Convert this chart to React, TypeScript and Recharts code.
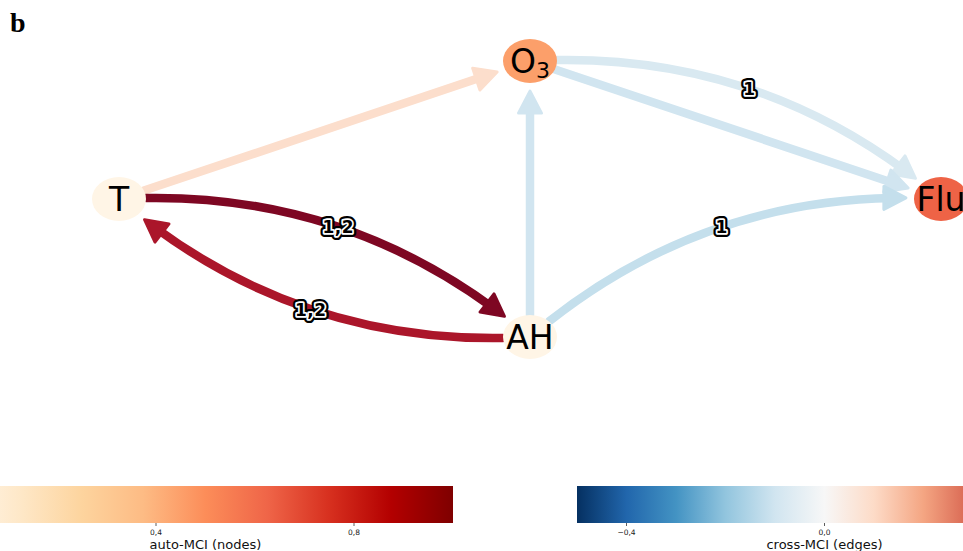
import React from "react";
import { ScatterChart, Scatter, XAxis, YAxis } from "recharts";

// graph nodes: layout grid coordinates and auto-MCI values
const nodeNames = ["T", "O3", "AH", "Flu"];
const nodeX = [0, 1, 1, 2];
const nodeY = [1, 2, 0, 1];
const nodeAutoMCI = [0.02, 0.45, 0.02, 0.63];

// links: source -> target, cross-MCI value and lag label ("" = contemporaneous)
const edgeFrom = ["T", "T", "AH", "AH", "O3", "O3", "AH"];
const edgeTo = ["O3", "AH", "T", "O3", "Flu", "Flu", "Flu"];
const edgeCrossMCI = [0.09, 0.47, 0.41, -0.1, -0.08, -0.1, -0.12];
const edgeLags = ["", "1,2", "1,2", "", "1", "", "1"];

// colorbar ticks
const nodeTicks = [0.4, 0.8];
const nodeTickLabels = ["0,4", "0,8"];
const edgeTicks = [-0.4, 0.0];
const edgeTickLabels = ["\u22120,4", "0,0"];

const W = 963;
const H = 551;
const FONT = "'DejaVu Sans', sans-serif";

// pixel placement of the layout grid
const PX_X = 411;
const PX_Y = 138;
const X_LEFT = 119;
const Y_TOP = 61;
const xDomain = [-X_LEFT / PX_X, (W - X_LEFT) / PX_X];
const yDomain = [2 + Y_TOP / PX_Y - H / PX_Y, 2 + Y_TOP / PX_Y];

const NODE_RX = 27;
const NODE_RY = 22;
const EDGE_W = 8.5;
const HEAD_LEN = 22;
const HEAD_HW = 11.5;
const RAD = 0.2;

const ORRD = ["#fff7ec", "#fee8c8", "#fdd49e", "#fdbb84", "#fc8d59", "#ef6548", "#d7301f", "#b30000", "#7f0000"];
const RDBU_R = ["#053061", "#2166ac", "#4393c3", "#92c5de", "#d1e5f0", "#f7f7f7", "#fddbc7", "#f4a582", "#d6604d", "#b2182b", "#67001f"];

function hexToRgb(h: string) {
  const n = parseInt(h.slice(1), 16);
  return [(n >> 16) & 255, (n >> 8) & 255, n & 255];
}

function sample(stops: string[], t: number) {
  const tt = Math.max(0, Math.min(1, t)) * (stops.length - 1);
  const i = Math.min(stops.length - 2, Math.floor(tt));
  const f = tt - i;
  const a = hexToRgb(stops[i]);
  const b = hexToRgb(stops[i + 1]);
  const c = a.map((v, k) => Math.round(v + (b[k] - v) * f));
  return `rgb(${c[0]},${c[1]},${c[2]})`;
}

const nodeColor = (v: number) => sample(ORRD, v);
const edgeColor = (v: number) => sample(RDBU_R, v + 0.5);

type Pt = { x: number; y: number };

function quad(p0: Pt, c: Pt, p2: Pt, t: number): Pt {
  const u = 1 - t;
  return { x: u * u * p0.x + 2 * u * t * c.x + t * t * p2.x, y: u * u * p0.y + 2 * u * t * c.y + t * t * p2.y };
}

function quadD(p0: Pt, c: Pt, p2: Pt, t: number): Pt {
  return {
    x: 2 * (1 - t) * (c.x - p0.x) + 2 * t * (p2.x - c.x),
    y: 2 * (1 - t) * (c.y - p0.y) + 2 * t * (p2.y - c.y),
  };
}

function outside(p: Pt, ctr: Pt, m: number) {
  return ((p.x - ctr.x) / (NODE_RX + m)) ** 2 + ((p.y - ctr.y) / (NODE_RY + m)) ** 2 >= 1;
}

function EdgeCurve(props: any) {
  const { points, color, label, rad } = props;
  if (!points || points.length < 2) return null;
  const p0: Pt = { x: points[0].x, y: points[0].y };
  const p2: Pt = { x: points[1].x, y: points[1].y };
  const dx = p2.x - p0.x;
  const dy = p2.y - p0.y;
  const c: Pt = { x: (p0.x + p2.x) / 2 + rad * dy, y: (p0.y + p2.y) / 2 - rad * dx };

  // trim the curve at the node outlines
  let t0 = 0;
  while (t0 < 0.5 && !outside(quad(p0, c, p2, t0), p0, 0)) t0 += 0.001;
  let t1 = 1;
  while (t1 > 0.5 && !outside(quad(p0, c, p2, t1), p2, 8)) t1 -= 0.001;
  const tip = quad(p0, c, p2, t1);
  let tS = t1;
  while (tS > t0) {
    const q = quad(p0, c, p2, tS);
    if (Math.hypot(q.x - tip.x, q.y - tip.y) >= HEAD_LEN * 0.6) break;
    tS -= 0.001;
  }
  const a = quad(p0, c, p2, t0);
  const b = quad(p0, c, p2, tS);
  const d0 = quadD(p0, c, p2, t0);
  const ctrl = { x: a.x + ((tS - t0) / 2) * d0.x, y: a.y + ((tS - t0) / 2) * d0.y };

  const dt = quadD(p0, c, p2, t1);
  const len = Math.hypot(dt.x, dt.y);
  const ux = dt.x / len;
  const uy = dt.y / len;
  const bx = tip.x - ux * HEAD_LEN;
  const by = tip.y - uy * HEAD_LEN;
  const head = [
    [tip.x, tip.y],
    [bx - uy * HEAD_HW, by + ux * HEAD_HW],
    [bx + uy * HEAD_HW, by - ux * HEAD_HW],
  ]
    .map((p) => p.join(","))
    .join(" ");

  const mid = quad(p0, c, p2, 0.5);

  return (
    <g>
      <path
        d={`M${a.x},${a.y} Q${ctrl.x},${ctrl.y} ${b.x},${b.y}`}
        fill="none"
        stroke={color}
        strokeWidth={EDGE_W}
        strokeLinecap="round"
      />
      <polygon points={head} fill={color} stroke={color} strokeWidth={3} strokeLinejoin="round" />
      {label ? (
        <g fontFamily={FONT} fontWeight="bold" fontSize={17} textAnchor="middle" letterSpacing={0.5}>
          <text x={mid.x} y={mid.y + 6.5} fill="#000" stroke="#000" strokeWidth={8} strokeLinejoin="round">
            {label}
          </text>
          <text x={mid.x} y={mid.y + 6.5} fill="#000" stroke="#fff" strokeWidth={3.5} strokeLinejoin="round">
            {label}
          </text>
          <text x={mid.x} y={mid.y + 6.5} fill="#000">
            {label}
          </text>
        </g>
      ) : null}
    </g>
  );
}

function NodeShape(props: any) {
  const { cx, cy, payload } = props;
  const name: string = payload.name;
  return (
    <g>
      <ellipse cx={cx} cy={cy} rx={NODE_RX} ry={NODE_RY} fill={nodeColor(payload.value)} />
      <text x={cx} y={cy + 12} textAnchor="middle" fontFamily={FONT} fontSize={33} fill="#000">
        {name === "O3" ? (
          <>
            <tspan>O</tspan>
            <tspan fontSize={22} dy={5}>
              3
            </tspan>
          </>
        ) : (
          name
        )}
      </text>
    </g>
  );
}

const Empty = () => <g />;

const nodeData = nodeNames.map((name, i) => ({ name, x: nodeX[i], y: nodeY[i], value: nodeAutoMCI[i] }));
const nodeIndex = (n: string) => nodeNames.indexOf(n);

const edgeData = edgeFrom.map((from, i) => {
  const s = nodeIndex(from);
  const t = nodeIndex(edgeTo[i]);
  return {
    points: [
      { x: nodeX[s], y: nodeY[s] },
      { x: nodeX[t], y: nodeY[t] },
    ],
    value: edgeCrossMCI[i],
    lag: edgeLags[i],
  };
});

// colorbar geometry
const CB_Y = 486;
const CB_H = 37;
const CB_W = 495;
const NODE_CB_X = -42;
const EDGE_CB_X = 577;

function Colorbars() {
  const nx = (v: number) => NODE_CB_X + v * CB_W;
  const ex = (v: number) => EDGE_CB_X + (v + 0.5) * CB_W;
  return (
    <svg width={W} height={H} style={{ position: "absolute", left: 0, top: 0, pointerEvents: "none" }}>
      <defs>
        <linearGradient id="gOrRd" x1="0" x2="1" y1="0" y2="0">
          {ORRD.map((c, i) => (
            <stop key={i} offset={i / (ORRD.length - 1)} stopColor={c} />
          ))}
        </linearGradient>
        <linearGradient id="gRdBu" x1="0" x2="1" y1="0" y2="0">
          {RDBU_R.map((c, i) => (
            <stop key={i} offset={i / (RDBU_R.length - 1)} stopColor={c} />
          ))}
        </linearGradient>
      </defs>
      <rect x={NODE_CB_X} y={CB_Y} width={CB_W} height={CB_H} fill="url(#gOrRd)" />
      <rect x={EDGE_CB_X} y={CB_Y} width={CB_W} height={CB_H} fill="url(#gRdBu)" />
      <g fontFamily={FONT} fontSize={7.5} fill="#222" textAnchor="middle">
        {nodeTicks.map((v, i) => (
          <g key={"n" + i}>
            <line x1={nx(v)} x2={nx(v)} y1={CB_Y + CB_H} y2={CB_Y + CB_H + 3} stroke="#333" strokeWidth={0.8} />
            <text x={nx(v)} y={534.5}>
              {nodeTickLabels[i]}
            </text>
          </g>
        ))}
        {edgeTicks.map((v, i) => (
          <g key={"e" + i}>
            <line x1={ex(v)} x2={ex(v)} y1={CB_Y + CB_H} y2={CB_Y + CB_H + 3} stroke="#333" strokeWidth={0.8} />
            <text x={ex(v)} y={534.5}>
              {edgeTickLabels[i]}
            </text>
          </g>
        ))}
      </g>
      <g fontFamily={FONT} fontSize={13} fill="#111" textAnchor="middle">
        <text x={NODE_CB_X + CB_W / 2} y={548.5}>
          auto-MCI (nodes)
        </text>
        <text x={EDGE_CB_X + CB_W / 2} y={548.5}>
          cross-MCI (edges)
        </text>
      </g>
      <text x={10} y={32} fontFamily="'Liberation Serif', serif" fontWeight="bold" fontSize={28} fill="#000">
        b
      </text>
    </svg>
  );
}

export default function App() {
  return (
    <div style={{ position: "fixed", left: 0, top: 0, width: W, height: H, overflow: "hidden", background: "#fff" }}>
      <ScatterChart width={W} height={H} margin={{ top: 0, right: 0, bottom: 0, left: 0 }}>
        <XAxis type="number" dataKey="x" domain={xDomain} allowDataOverflow hide />
        <YAxis type="number" dataKey="y" domain={yDomain} allowDataOverflow hide />
        {edgeData.map((e, i) => (
          <Scatter
            key={i}
            data={e.points}
            shape={Empty}
            isAnimationActive={false}
            line={<EdgeCurve color={edgeColor(e.value)} label={e.lag} rad={e.lag ? RAD : 0} />}
          />
        ))}
        <Scatter data={nodeData} shape={NodeShape} isAnimationActive={false} />
      </ScatterChart>
      <Colorbars />
    </div>
  );
}
